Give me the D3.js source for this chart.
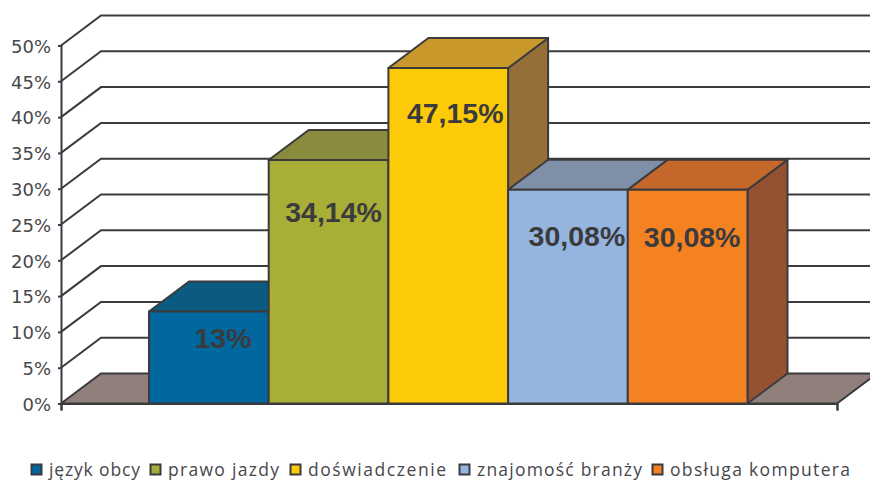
<!DOCTYPE html>
<html>
<head>
<meta charset="utf-8">
<script src="https://cdn.jsdelivr.net/npm/d3@7"></script>
<style>
  html, body { margin: 0; padding: 0; background: #fff; }
  svg { display: block; }
</style>
</head>
<body>
<div class="contain"></div>
<script>
const categories = ["język obcy", "prawo jazdy", "doświadczenie", "znajomość branży", "obsługa komputera"];
// bar heights (they sit slightly under the printed labels)
const values = [12.85, 34, 46.85, 29.85, 29.85];
const value_labels = ["13%", "34,14%", "47,15%", "30,08%", "30,08%"];
const y_ticks = [0, 5, 10, 15, 20, 25, 30, 35, 40, 45, 50];

const front_colors = ["#00679f", "#a8ae36", "#fdca08", "#95b5de", "#f58220"];
const top_colors = ["#0b5a80", "#8a8b3c", "#c8992a", "#7f8fa8", "#c5682b"];
const side_colors = ["#0a4f70", "#75772f", "#966f38", "#6f7f98", "#955233"];

const svg_width = 870;
const svg_height = 480;
const line_color = "#3b3b3e";
const line_width = 2;

// 3d offset of the back wall
const depth_x = 40;
const depth_y = -30;

const plot_left = 61;
const plot_right = 837;

let svg = d3.select(".contain").append("svg")
            .attr("width", svg_width).attr("height", svg_height);

let yScale = d3.scaleLinear().domain([0, 50]).range([403.5, 45.5]);
let xScale = d3.scaleBand().domain(categories).range([149, 747.5]).padding(0);

const poly = (points) => d3.line()(points) + "Z";

//Back wall lines and left diagonals
y_ticks.slice(1).forEach((t) => {
  let y = yScale(t);
  svg.append("path")
    .attr("d", d3.line()([[plot_left, y], [plot_left + depth_x, y + depth_y], [svg_width, y + depth_y]]))
    .attr("fill", "none")
    .attr("stroke", line_color)
    .attr("stroke-width", line_width);
});

//Floor
let y0 = yScale(0);
svg.append("path")
  .attr("d", poly([[plot_left, y0], [plot_left + depth_x, y0 + depth_y],
                   [plot_right + depth_x, y0 + depth_y], [plot_right, y0]]))
  .attr("fill", "#8f807c")
  .attr("stroke", line_color)
  .attr("stroke-width", line_width);

//Bars, left to right so each one covers the side of the previous
categories.forEach((c, i) => {
  let x0 = xScale(c);
  let x1 = x0 + xScale.bandwidth();
  let y = yScale(values[i]);
  let g = svg.append("g")
    .attr("stroke", line_color)
    .attr("stroke-width", line_width)
    .attr("stroke-linejoin", "round");
  g.append("path")
    .attr("d", poly([[x1, y0], [x1 + depth_x, y0 + depth_y], [x1 + depth_x, y + depth_y], [x1, y]]))
    .attr("fill", side_colors[i]);
  g.append("path")
    .attr("d", poly([[x0, y], [x0 + depth_x, y + depth_y], [x1 + depth_x, y + depth_y], [x1, y]]))
    .attr("fill", top_colors[i]);
  g.append("rect")
    .attr("x", x0)
    .attr("y", y)
    .attr("width", x1 - x0)
    .attr("height", y0 - y)
    .attr("fill", front_colors[i]);
});

//Y axis
let yAxis = d3.axisLeft(yScale)
  .tickValues(y_ticks)
  .tickSize(3)
  .tickPadding(7)
  .tickFormat((d) => d + "%");
let axis_g = svg.append("g")
  .attr("transform", `translate(${plot_left}, 0)`)
  .call(yAxis);
axis_g.select(".domain")
  .attr("stroke", line_color)
  .attr("stroke-width", line_width);
axis_g.selectAll("line")
  .attr("stroke", line_color)
  .attr("stroke-width", line_width);
axis_g.selectAll("text")
  .attr("font-family", "'DejaVu Sans'")
  .attr("font-size", 18)
  .attr("dy", "0.38em")
  .attr("fill", "#47474a");

//X axis line with the two end ticks
let xAxis = d3.axisBottom(d3.scaleLinear().domain([0, 1]).range([plot_left, plot_right]))
  .tickValues([0, 1])
  .tickSize(7)
  .tickFormat("");
let x_axis_g = svg.append("g")
  .attr("transform", `translate(0, ${y0})`)
  .call(xAxis);
x_axis_g.selectAll(".domain, line")
  .attr("stroke", line_color)
  .attr("stroke-width", line_width);

//Value labels, hand placed like in the original
const label_dx = [45.5, 16.5, 18.5, 20.5, 16];
const label_dy = [37, 62, 55, 56, 57];
categories.forEach((c, i) => {
  svg.append("text")
    .attr("x", xScale(c) + label_dx[i])
    .attr("y", yScale(values[i]) + label_dy[i])
    .attr("font-family", "'Liberation Sans'")
    .attr("font-weight", "bold")
    .attr("font-size", 28.5)
    .attr("fill", "#3b3b3e")
    .text(value_labels[i]);
});

//Legend
const legend_x = [31, 150, 290, 459, 652];
const legend_text_width = [91, 111, 138, 165, 180];
categories.forEach((c, i) => {
  svg.append("rect")
    .attr("x", legend_x[i] + 0.5)
    .attr("y", 464.5)
    .attr("width", 10)
    .attr("height", 10)
    .attr("fill", front_colors[i])
    .attr("stroke", line_color)
    .attr("stroke-width", line_width);
  svg.append("text")
    .attr("x", legend_x[i] + 18)
    .attr("y", 476)
    .attr("font-family", "'Open Sans'")
    .attr("font-size", 17.5)
    .attr("textLength", legend_text_width[i])
    .attr("lengthAdjust", "spacing")
    .attr("fill", "#47474a")
    .text(c);
});
</script>
</body>
</html>
